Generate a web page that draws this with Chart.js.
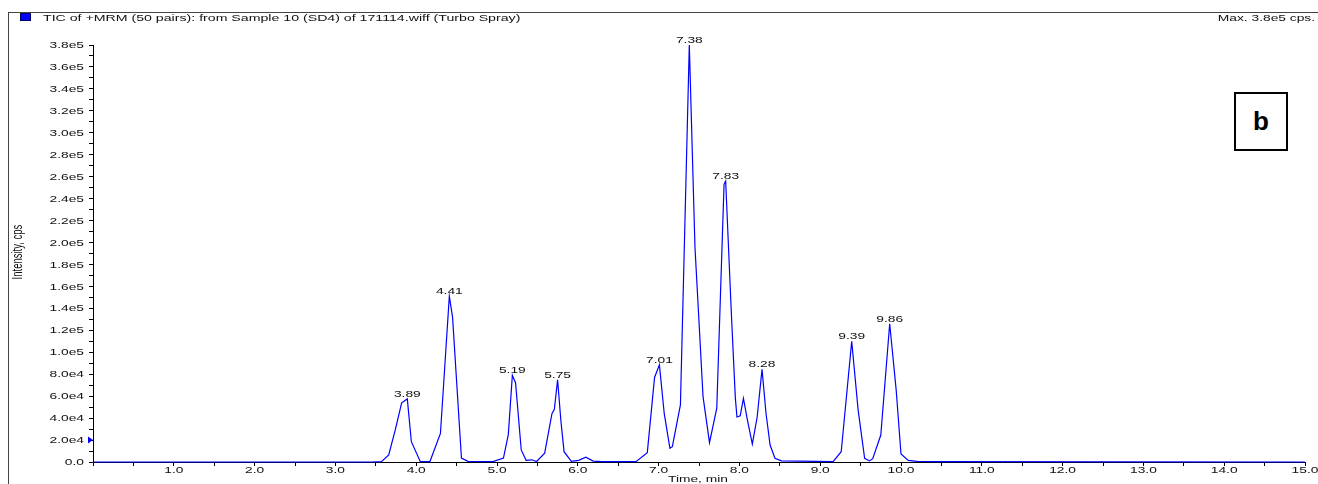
<!DOCTYPE html>
<html>
<head>
<meta charset="utf-8">
<script src="https://cdn.jsdelivr.net/npm/chart.js@4/dist/chart.umd.min.js"></script>
<style>
  html, body { margin: 0; padding: 0; background: #fff; }
  #wrap { position: relative; width: 1318px; height: 484px; overflow: hidden; }
  #chart { position: absolute; left: 0; top: 0; }
  .txt {
    position: absolute;
    font: 9.5px/1 "Liberation Sans", Arial, sans-serif;
    color: #111;
    white-space: nowrap;
  }
  #frame {
    position: absolute; left: 8px; top: 12px; right: -2px; bottom: -4px;
    border-left: 1px solid #444; border-top: 1px solid #444;
  }
  #swatch {
    position: absolute; left: 20px; top: 13px; width: 9px; height: 6px;
    background: #0000ff; border: 0.5px solid #000066;
  }
  #legendText { left: 43px; top: 12.5px; transform-origin: left center; transform: scaleX(1.49); }
  #maxText { right: 3px; top: 12.5px; transform-origin: right center; transform: scaleX(1.45); }
  #xTitle { left: 698px; top: 474px; transform: translateX(-50%) scaleX(1.45); }
  #yTitle { left: 17px; top: 252px; transform: translate(-50%, -50%) scaleX(1.45) rotate(-90deg); }
  #tag {
    position: absolute; left: 1234px; top: 92px; width: 50px; height: 55px;
    border: 2px solid #000; background: #fff;
    font: bold 26px/55px "Liberation Sans", Arial, sans-serif;
    text-align: center; color: #000;
  }
</style>
</head>
<body>
<div id="wrap">
  <canvas id="chart" width="1318" height="484"></canvas>
  <div id="frame"></div>
  <div id="swatch"></div>
  <div class="txt" id="legendText">TIC of +MRM (50 pairs): from Sample 10 (SD4) of 171114.wiff (Turbo Spray)</div>
  <div class="txt" id="maxText">Max. 3.8e5 cps.</div>
  <div class="txt" id="xTitle">Time, min</div>
  <div class="txt" id="yTitle">Intensity, cps</div>
  <div id="tag">b</div>
</div>
<script>
// retention time (min) and intensity (cps)
const times = [
  0, 3.45, 3.57, 3.66, 3.74, 3.82, 3.89, 3.94,
  4.05, 4.17, 4.30, 4.41, 4.45, 4.56, 4.64, 4.95,
  5.08, 5.14, 5.19, 5.23, 5.30, 5.36, 5.43, 5.49,
  5.59, 5.68, 5.71, 5.75, 5.79, 5.83, 5.92,
  6.01, 6.10, 6.19, 6.30, 6.72, 6.86, 6.95, 7.01,
  7.07, 7.14, 7.17, 7.27, 7.38, 7.45, 7.55, 7.63, 7.72, 7.81, 7.83,
  7.90, 7.95, 7.97, 8.01, 8.05, 8.10, 8.16, 8.22, 8.28,
  8.33, 8.38, 8.44, 8.52,
  9.16, 9.26, 9.39, 9.47, 9.55, 9.61, 9.65, 9.75, 9.86,
  9.94, 10.00, 10.09, 10.20, 10.50, 15.0,
]
const intensity = [
  0, 0, 300, 6400, 29000, 54000, 57500, 18500,
  500, 400, 26000, 151000, 132000, 3600, 600, 400,
  3600, 25000, 79000, 72000, 11000, 1500, 2000, 500,
  8000, 44000, 48000, 75000, 38000, 9400, 500,
  1500, 4300, 800, 300, 300, 8500, 77000, 88500,
  44000, 12500, 14000, 52000, 380000, 196000, 59500, 17600, 49000, 253000, 256000,
  136000, 58000, 41000, 42000, 58000, 38000, 16400, 41000, 84400,
  44000, 15500, 3400, 1000,
  300, 9400, 110000, 47000, 3400, 1000, 3000, 24600, 126000,
  66000, 7300, 1500, 500, 300, 0,
]
// labelled apexes
const peakTimes = [3.89, 4.41, 5.19, 5.75, 7.01, 7.38, 7.83, 8.28, 9.39, 9.86]

const X_MIN = 0, X_MAX = 15, X_STEP = 0.5
const Y_MIN = 0, Y_MAX = 380000, Y_STEP = 10000
const MARKER_LEVEL = 20000

const STRETCH = 1.45
const FONT = '9.5px "Liberation Sans", Arial, sans-serif'
const TEXT_COLOR = '#111'
const LINE_COLOR = '#0000ff'

const xLabel = v => {
  const r = Math.round(v)
  return Math.abs(v - r) < 1e-6 && r >= 1 ? r.toFixed(1) : ''
}
const yLabel = v => {
  if (Math.round(v / Y_STEP) % 2 !== 0) return ''
  return v === 0 ? '0.0' : v.toExponential(1).replace('e+', 'e')
}

const drawStretched = (ctx, text, px, py) => {
  ctx.save()
  ctx.translate(px, py)
  ctx.scale(STRETCH, 1)
  ctx.fillText(text, 0, 0)
  ctx.restore()
}

// tick labels, peak labels and the level marker, drawn with horizontally stretched text
const annotations = {
  id: 'annotations',
  afterDraw(chart) {
    const { ctx, chartArea, scales: { x, y } } = chart
    ctx.save()
    ctx.fillStyle = TEXT_COLOR
    ctx.font = FONT

    ctx.textAlign = 'right'
    ctx.textBaseline = 'middle'
    y.ticks.forEach(t => {
      const label = yLabel(t.value)
      if (label) drawStretched(ctx, label, chartArea.left - 9, y.getPixelForValue(t.value) + 0.5)
    })

    ctx.textAlign = 'center'
    ctx.textBaseline = 'alphabetic'
    x.ticks.forEach(t => {
      const label = xLabel(t.value)
      if (label) drawStretched(ctx, label, x.getPixelForValue(t.value), chartArea.bottom + 11)
    })

    const points = chart.getDatasetMeta(0).data
    peakTimes.forEach(pt => {
      let idx = 0
      times.forEach((t, i) => {
        if (Math.abs(t - pt) < Math.abs(times[idx] - pt)) idx = i
      })
      const p = points[idx]
      drawStretched(ctx, pt.toFixed(2), p.x, p.y - 2)
    })

    // small blue arrow on the intensity axis
    const my = y.getPixelForValue(MARKER_LEVEL)
    ctx.fillStyle = LINE_COLOR
    ctx.beginPath()
    ctx.moveTo(chartArea.left, my)
    ctx.lineTo(chartArea.left - 5, my - 3.5)
    ctx.lineTo(chartArea.left - 5, my + 3.5)
    ctx.closePath()
    ctx.fill()
    ctx.restore()
  },
}

const axisStyle = {
  grid: { drawOnChartArea: false, drawTicks: true, tickLength: 4, color: '#000', lineWidth: 1 },
  border: { display: true, color: '#000', width: 1 },
}

new Chart(document.getElementById('chart'), {
  type: 'line',
  data: {
    datasets: [{
      data: times.map((t, i) => ({ x: t, y: intensity[i] })),
      borderColor: LINE_COLOR,
      borderWidth: 1.2,
      pointRadius: 0,
      tension: 0,
      clip: 4,
    }],
  },
  options: {
    responsive: false,
    animation: false,
    devicePixelRatio: 1,
    layout: { padding: { left: 0, right: 13, top: 45, bottom: 0 } },
    plugins: { legend: { display: false }, tooltip: { enabled: false } },
    scales: {
      x: {
        type: 'linear',
        min: X_MIN,
        max: X_MAX,
        ticks: { stepSize: X_STEP, display: false },
        ...axisStyle,
        afterFit: s => { s.height = 22 },
      },
      y: {
        min: Y_MIN,
        max: Y_MAX,
        ticks: { stepSize: Y_STEP, display: false },
        ...axisStyle,
        afterFit: s => { s.width = 93 },
      },
    },
  },
  plugins: [annotations],
})
</script>
</body>
</html>
